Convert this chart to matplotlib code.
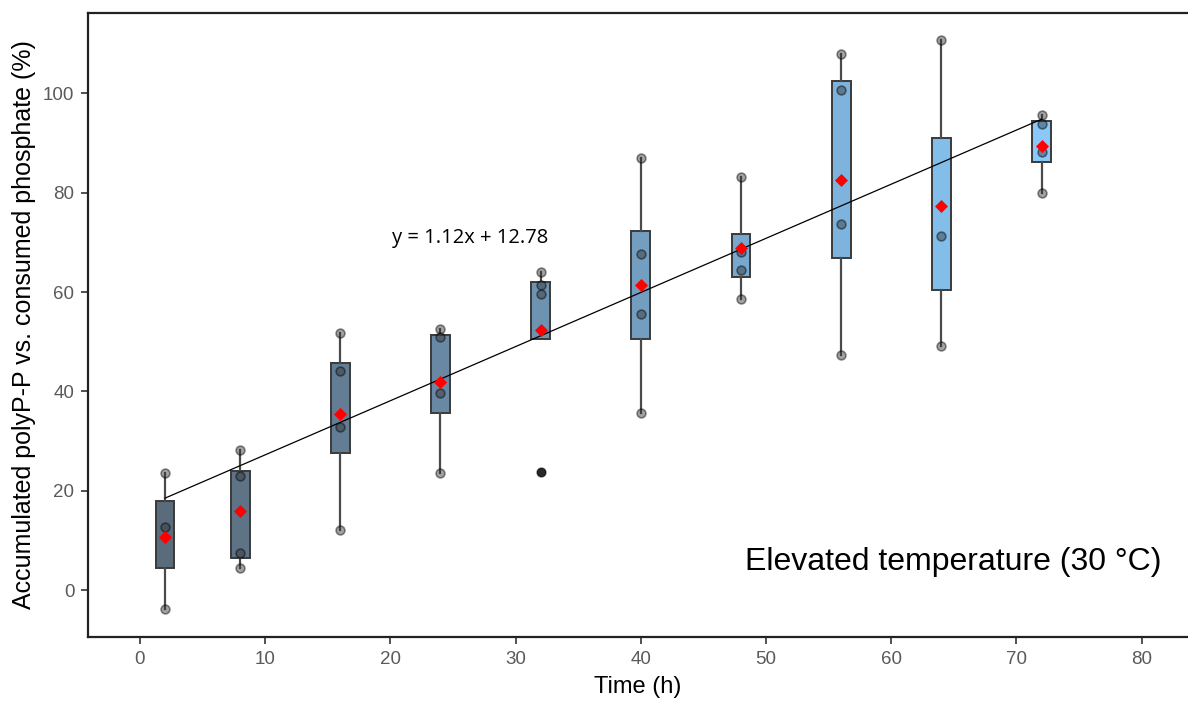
import matplotlib
matplotlib.use("Agg")
import matplotlib.pyplot as plt
import numpy as np
from matplotlib.colors import to_rgb

# sampling times (h)
times = [2, 8, 16, 24, 32, 40, 48, 56, 64, 72]

# box statistics (%)
whisk_lo = [-3.9, 4.4, 12.1, 23.5, 50.6, 35.6, 58.6, 47.3, 49.2, 80.0]
box_q1 = [4.4, 6.5, 27.5, 35.6, 50.6, 50.5, 63.1, 66.8, 60.4, 86.2]
box_q3 = [17.9, 24.0, 45.8, 51.3, 62.1, 72.3, 71.7, 102.4, 91.0, 94.5]
whisk_hi = [23.5, 28.2, 51.8, 52.5, 64.1, 86.9, 83.1, 108.0, 110.7, 95.6]
means = [10.7, 16.0, 35.4, 41.8, 52.3, 61.5, 68.9, 82.5, 77.4, 89.5]
outliers = [[], [], [], [], [23.8], [], [], [], [], []]

# individual replicates
points = [
    [23.5, 12.7, -3.9],
    [28.2, 23.0, 7.5, 4.4],
    [51.8, 44.1, 32.8, 12.1],
    [52.5, 51.0, 39.6, 23.5],
    [64.1, 61.4, 59.7, 23.8],
    [86.9, 67.6, 55.5, 35.6],
    [83.1, 68.0, 64.5, 58.6],
    [108.0, 100.7, 73.8, 47.3],
    [110.7, 71.3, 49.2],
    [95.6, 93.8, 88.2, 80.0],
]

# trend line as drawn (start / end)
trend_t = [2, 72]
trend_val = [18.5, 94.8]
equation = "y = 1.12x + 12.78"


def box_color(t):
    lo = np.array(to_rgb("#132B43"))
    hi = np.array(to_rgb("#56B1F7"))
    f = (t - times[0]) / (times[-1] - times[0])
    c = lo + (hi - lo) * f
    return tuple(0.7 * c + 0.3)


fig = plt.figure(figsize=(11.88, 7.04), dpi=100)
ax = fig.add_axes([0.0743, 0.0956, 0.9257, 0.886])

stats = []
for i in range(len(times)):
    stats.append(dict(whislo=whisk_lo[i], q1=box_q1[i], med=box_q1[i],
                      q3=box_q3[i], whishi=whisk_hi[i], mean=means[i],
                      fliers=outliers[i]))

bp = ax.bxp(stats, positions=times, widths=1.5, patch_artist=True,
            showcaps=False, showmeans=False, manage_ticks=False,
            boxprops=dict(edgecolor="#3a3a3a", linewidth=1.4),
            whiskerprops=dict(color="#4a4a4a", linewidth=1.6),
            medianprops=dict(linewidth=0),
            flierprops=dict(marker="o", markerfacecolor="#222222",
                            markeredgecolor="#222222", markersize=5.5))
for patch, t in zip(bp["boxes"], times):
    patch.set_facecolor(box_color(t))

for t, vals in zip(times, points):
    ax.scatter([t] * len(vals), vals, s=40, c="#333333", alpha=0.45,
               edgecolors="black", linewidths=1.2, zorder=4)

ax.plot(trend_t, trend_val, color="black", linewidth=0.9, zorder=5)
ax.scatter(times, means, marker="D", s=44, color="red", zorder=6,
           linewidths=0)

ax.text(26.4, 70.9, equation, fontsize=14.5, family="Open Sans",
        ha="center", va="center")
ax.text(81.6, 5.6, "Elevated temperature (30 \u00b0C)", fontsize=23,
        family="Liberation Sans", ha="right", va="center")

ax.set_xlim(-4.13, 83.7)
ax.set_ylim(-9.4, 116.2)
ax.set_xticks(range(0, 81, 10))
ax.set_yticks(range(0, 101, 20))
for side in ["left", "bottom", "top"]:
    ax.spines[side].set_linewidth(1.6)
    ax.spines[side].set_color("#222222")
ax.spines["right"].set_visible(False)
ax.tick_params(length=5, width=1.2, color="#333333", labelsize=13.5,
               labelcolor="#5a5a5a", pad=5)
for lab in ax.get_xticklabels() + ax.get_yticklabels():
    lab.set_family("Liberation Sans")

ax.set_xlabel("Time (h)", fontsize=17, family="Liberation Sans", labelpad=6)
ax.set_ylabel("Accumulated polyP-P vs. consumed phosphate (%)", fontsize=18,
              family="Liberation Sans", labelpad=5)

fig.savefig("out.png", dpi=100)
